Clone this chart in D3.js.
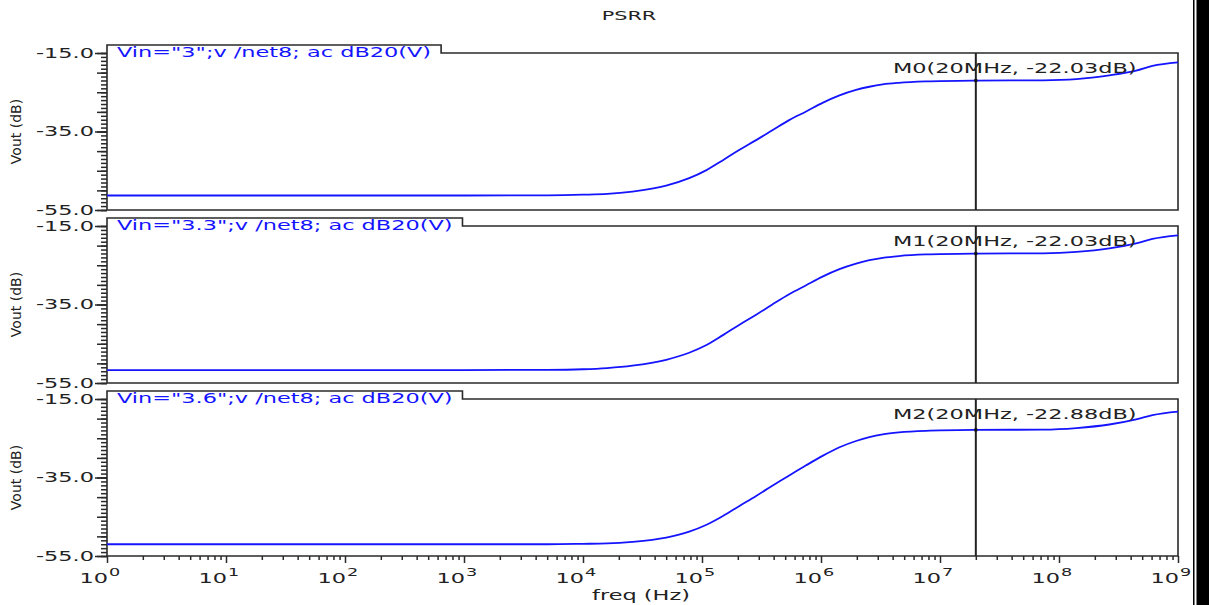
<!DOCTYPE html>
<html>
<head>
<meta charset="utf-8">
<script src="https://cdn.jsdelivr.net/npm/d3@7"></script>
<style>
  body { margin: 0; background: #fff; }
  svg { display: block; }
</style>
</head>
<body>
<svg id="chart"></svg>
<script>
// frequency grid (Hz) shared by the three sweeps
const freqs = [1, 10, 100, 1e3, 5e3, 1e4, 1.6e4, 2.6e4, 5e4, 7.8e4, 1.08e5, 1.5e5, 2.05e5, 2.85e5,
  3.9e5, 5.4e5, 7.5e5, 1.03e6, 1.43e6, 1.97e6, 2.55e6, 3.3e6, 4.5e6, 7.6e6, 2e7, 7.3e7, 1.4e8, 2.65e8,
  4.45e8, 6.1e8, 1e9];

// Vout in dB, one array per supply voltage
const dbVin3 = [-51.3, -51.3, -51.3, -51.3, -51.25, -51.1, -50.9, -50.3, -48.8, -46.9, -44.9, -42.3,
  -39.7, -37.2, -34.7, -32.1, -29.9, -27.7, -25.8, -24.4, -23.6, -23.0, -22.6, -22.25, -22.03, -21.95, -21.65,
  -20.7, -19.5, -18.3, -17.4];
const dbVin33 = [-51.7, -51.7, -51.7, -51.7, -51.65, -51.5, -51.2, -50.6, -49.1, -47.3, -45.4, -42.8,
  -40.2, -37.6, -35.0, -32.4, -30.1, -27.9, -26.0, -24.6, -23.7, -23.1, -22.65, -22.25, -22.03, -21.95, -21.6,
  -20.7, -19.4, -18.3, -17.4];
const dbVin36 = [-52.0, -52.0, -52.0, -52.0, -52.0, -51.9, -51.8, -51.4, -50.3, -48.8, -47.1, -44.8,
  -42.3, -39.7, -37.1, -34.5, -31.9, -29.5, -27.3, -25.7, -24.7, -24.0, -23.5, -23.1, -22.88, -22.8, -22.4,
  -21.5, -20.2, -19.1, -18.2];

const seriesDb = [dbVin3, dbVin33, dbVin36];
const vinLabels = ['Vin="3";v /net8; ac dB20(V)', 'Vin="3.3";v /net8; ac dB20(V)', 'Vin="3.6";v /net8; ac dB20(V)'];
const markerNames = ['M0', 'M1', 'M2'];
const markerFreq = 2e7;
const markerDb = [-22.03, -22.03, -22.88];
const yMajorTicks = [-15, -35, -55];
const xDecades = [0, 1, 2, 3, 4, 5, 6, 7, 8, 9];

const w = 1209;
const h = 605;
const plotLeft = 107;
const plotRight = 1178;
const panelTops = [53, 226, 399];
const panelH = 157;
const stretch = 1.6;   // the screenshot is stretched sideways
const font = 'DejaVu Sans, Verdana, sans-serif';
const frameColor = '#2a2a2a';
const blue = '#1414ff';

const svg = d3.select('#chart')
  .attr('width', w)
  .attr('height', h);

// stretch a text element sideways like the reference's wide letterforms
function widen(sel) {
  sel.each(function () {
    const len = this.getComputedTextLength();
    d3.select(this)
      .attr('textLength', len * stretch)
      .attr('lengthAdjust', 'spacingAndGlyphs');
  });
}

function styleTicks(ax) {
  ax.select('.domain').remove();
  ax.selectAll('.tick line')
    .style('stroke', frameColor)
    .style('stroke-width', '1.5px');
}

const xScale = d3.scaleLog()
  .domain([1, 1e9])
  .range([plotLeft, plotRight]);

svg.append('text')
  .attr('x', 629)
  .attr('y', 20)
  .attr('text-anchor', 'middle')
  .attr('font-family', font)
  .attr('font-size', 13)
  .attr('fill', '#222')
  .text('PSRR')
  .call(widen);

panelTops.forEach((top, i) => {
  const bottom = top + panelH;
  const yScale = d3.scaleLinear()
    .domain([-55, -15])
    .range([bottom, top]);
  const g = svg.append('g');

  // legend label
  const legend = g.append('text')
    .attr('x', plotLeft + 10)
    .attr('y', top + 4)
    .attr('font-family', font)
    .attr('font-size', 14)
    .attr('fill', blue)
    .text(vinLabels[i]);
  const legendW = legend.node().getComputedTextLength() * stretch;
  legend.attr('textLength', legendW).attr('lengthAdjust', 'spacingAndGlyphs');
  const tabRight = plotLeft + 10 + legendW + 10;

  // frame with the legend tab
  g.append('path')
    .attr('d', `M${plotLeft},${bottom}V${top - 8}H${tabRight}V${top}H${plotRight}V${bottom}Z`)
    .attr('fill', 'none')
    .attr('stroke', frameColor)
    .attr('stroke-width', 1.6);

  // y axis: 1 dB, 5 dB and labelled ticks
  const yMinor = g.append('g')
    .attr('transform', `translate(${plotLeft}, 0)`)
    .call(d3.axisLeft(yScale).tickValues(d3.range(-55, -14, 1)).tickSize(6).tickFormat(() => ''));
  const yMid = g.append('g')
    .attr('transform', `translate(${plotLeft}, 0)`)
    .call(d3.axisLeft(yScale).tickValues(d3.range(-55, -14, 5)).tickSize(10).tickFormat(() => ''));
  const yMajor = g.append('g')
    .attr('transform', `translate(${plotLeft}, 0)`)
    .call(d3.axisLeft(yScale).tickValues(yMajorTicks).tickSize(12).tickPadding(1)
      .tickFormat((d) => d.toFixed(1)));
  [yMinor, yMid, yMajor].forEach(styleTicks);
  yMajor.selectAll('text')
    .attr('font-family', font)
    .attr('font-size', 14)
    .attr('fill', '#222')
    .call(widen);

  g.append('text')
    .attr('transform', `translate(21, ${(top + bottom) / 2}) rotate(-90)`)
    .attr('text-anchor', 'middle')
    .attr('font-family', font)
    .attr('font-size', 14)
    .attr('fill', '#222')
    .text('Vout (dB)');

  // curve
  const line = d3.line()
    .x((d) => xScale(d[0]))
    .y((d) => yScale(d[1]))
    .curve(d3.curveMonotoneX);
  g.append('path')
    .datum(freqs.map((f, k) => [f, seriesDb[i][k]]))
    .attr('d', line)
    .attr('fill', 'none')
    .attr('stroke', blue)
    .attr('stroke-width', 1.8);

  // marker
  g.append('line')
    .attr('x1', xScale(markerFreq))
    .attr('x2', xScale(markerFreq))
    .attr('y1', top)
    .attr('y2', bottom)
    .attr('stroke', '#222')
    .attr('stroke-width', 2);
  g.append('rect')
    .attr('x', xScale(markerFreq) - 1.5)
    .attr('y', yScale(markerDb[i]) - 1.5)
    .attr('width', 3)
    .attr('height', 3)
    .attr('fill', '#111');
  g.append('text')
    .attr('x', 893)
    .attr('y', top + 20)
    .attr('font-family', font)
    .attr('font-size', 14)
    .attr('fill', '#222')
    .text(`${markerNames[i]}(20MHz, ${markerDb[i].toFixed(2)}dB)`)
    .call(widen);

  // x axis only on the last panel
  if (i === panelTops.length - 1) {
    const minorVals = d3.range(0, 9).flatMap((k) => d3.range(2, 10).map((m) => m * Math.pow(10, k)));
    const xMinor = g.append('g')
      .attr('transform', `translate(0, ${bottom})`)
      .call(d3.axisBottom(xScale).tickValues(minorVals).tickSize(4).tickFormat(() => ''));
    const xMajor = g.append('g')
      .attr('transform', `translate(0, ${bottom})`)
      .call(d3.axisBottom(xScale).tickValues(xDecades.map((e) => Math.pow(10, e))).tickSize(7)
        .tickFormat(() => ''));
    [xMinor, xMajor].forEach(styleTicks);

    xDecades.forEach((e) => {
      const px = xScale(Math.pow(10, e));
      g.append('text')
        .attr('x', px + 1)
        .attr('y', bottom + 27)
        .attr('text-anchor', 'end')
        .attr('font-family', font)
        .attr('font-size', 14)
        .attr('fill', '#222')
        .text('10')
        .call(widen);
      g.append('text')
        .attr('x', px + 2)
        .attr('y', bottom + 20)
        .attr('font-family', font)
        .attr('font-size', 11)
        .attr('fill', '#222')
        .text(e)
        .call(widen);
    });

    g.append('text')
      .attr('x', 641)
      .attr('y', bottom + 44)
      .attr('text-anchor', 'middle')
      .attr('font-family', font)
      .attr('font-size', 14)
      .attr('fill', '#222')
      .text('freq (Hz)')
      .call(widen);
  }
});

// black window edge on the right
svg.append('rect')
  .attr('x', 1193).attr('y', 0).attr('width', 1.5).attr('height', h).attr('fill', '#000');
svg.append('rect')
  .attr('x', 1196.5).attr('y', 0).attr('width', w - 1196.5).attr('height', h).attr('fill', '#000');
</script>
</body>
</html>
